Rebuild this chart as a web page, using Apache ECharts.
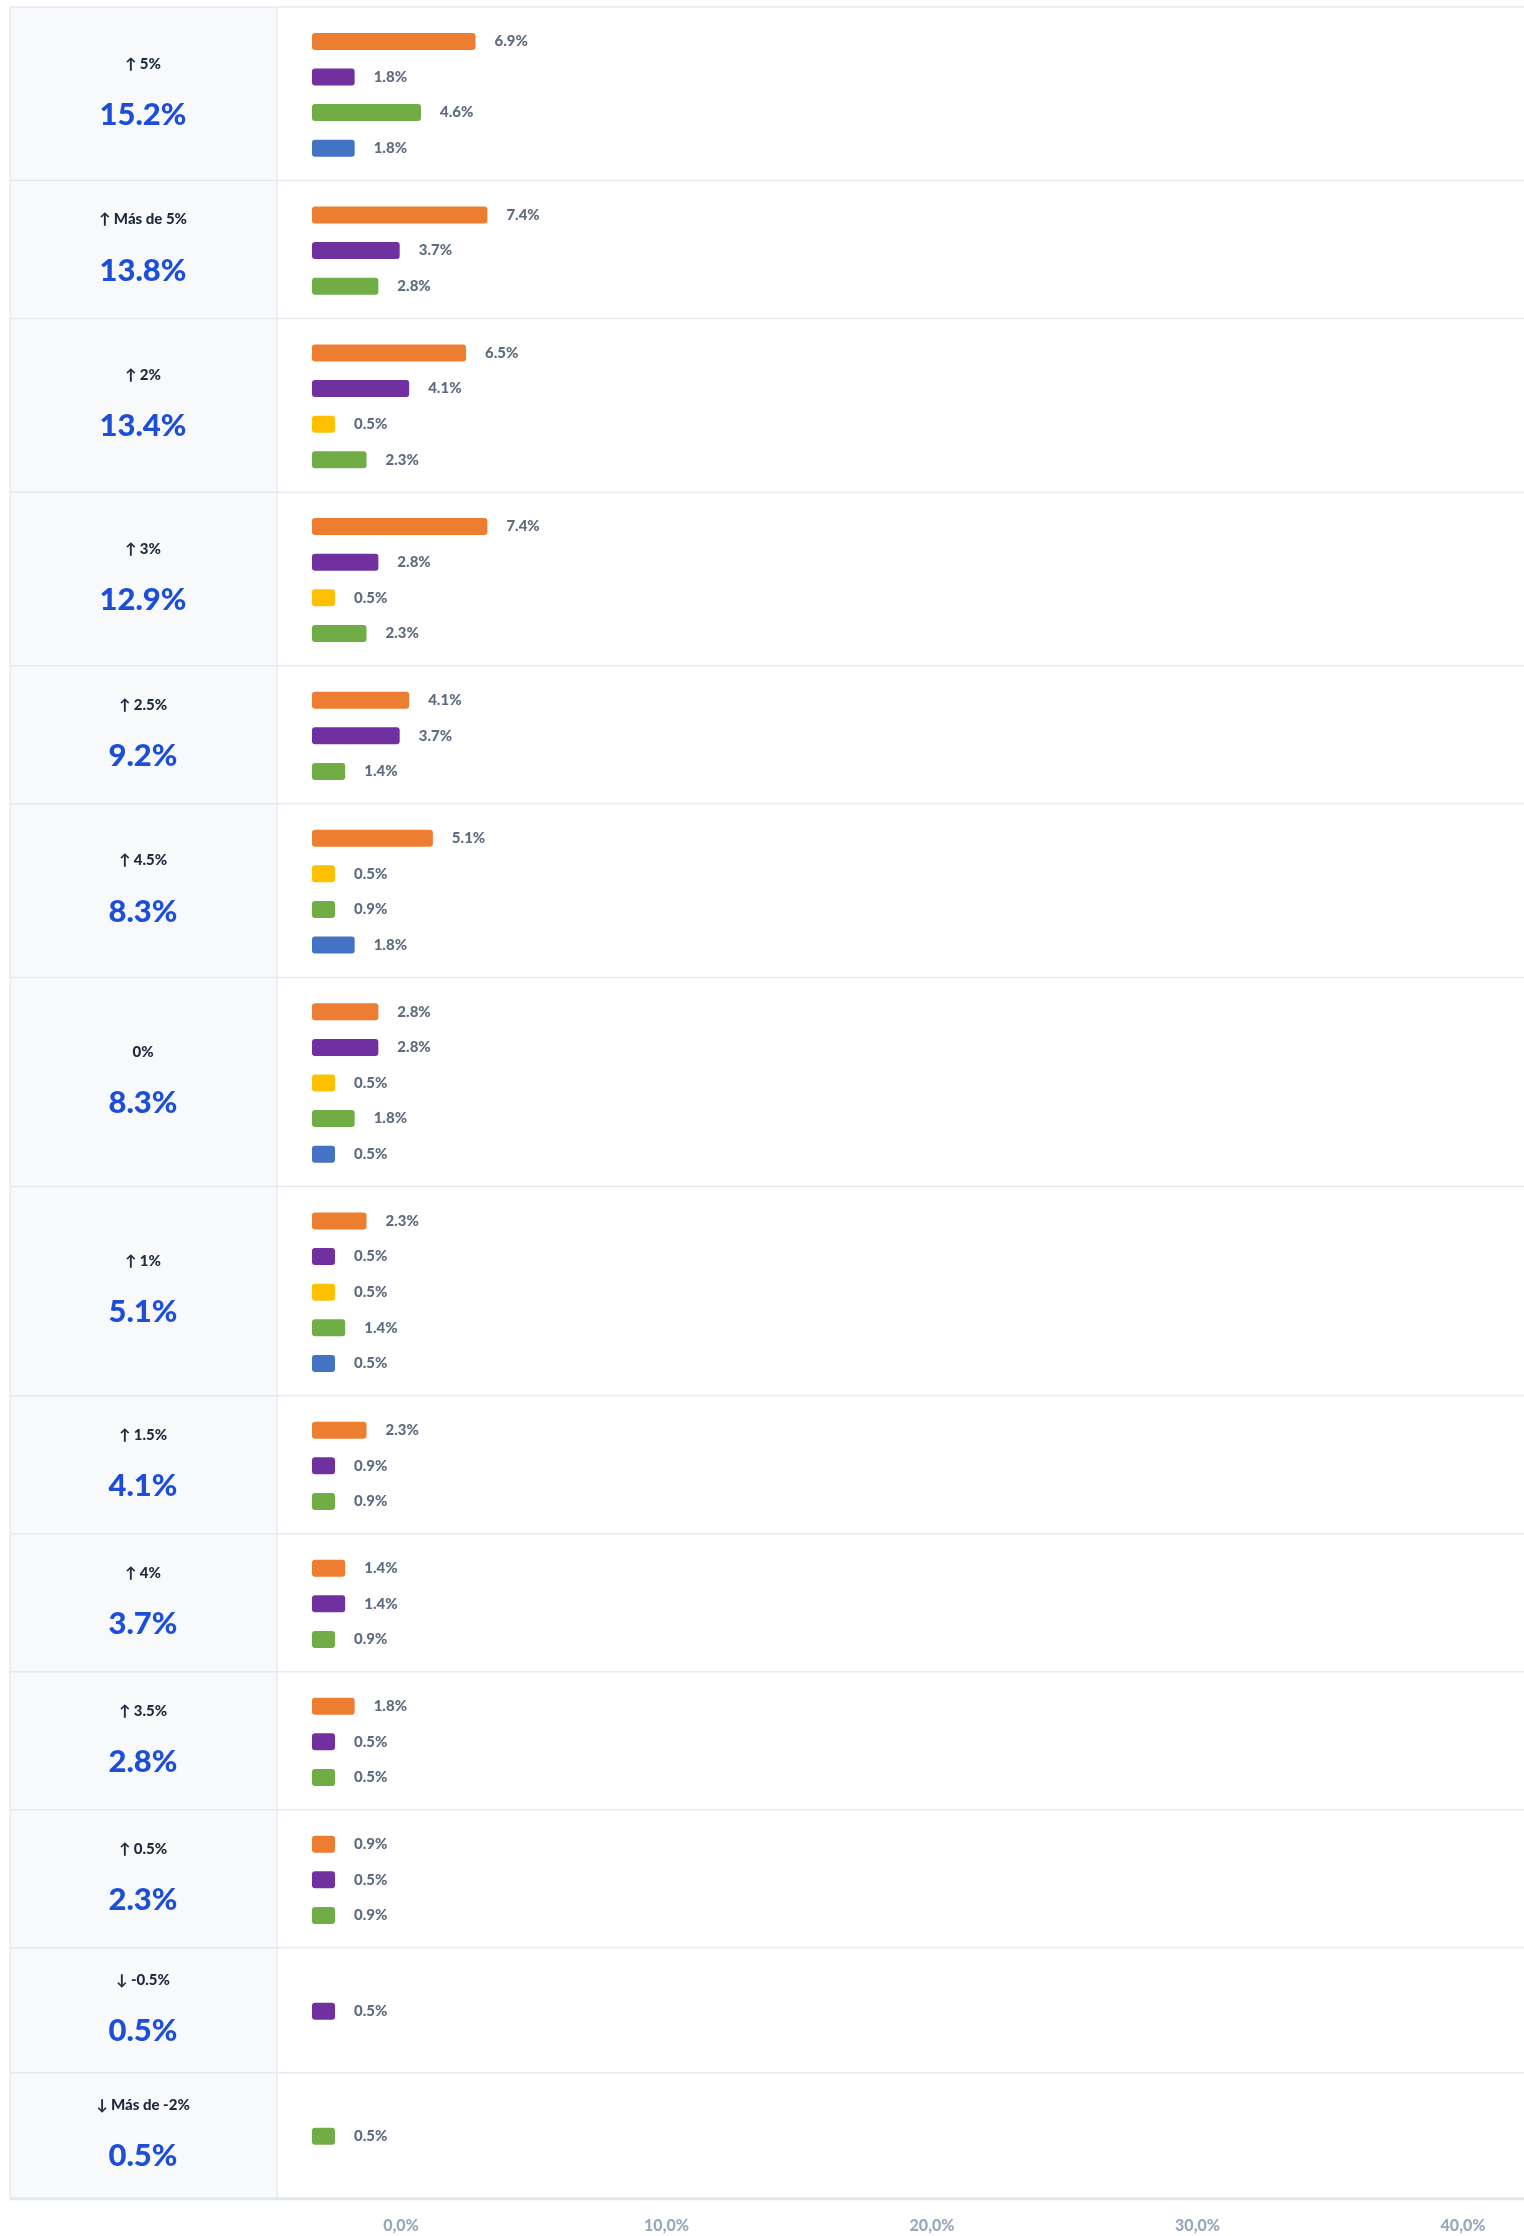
<!DOCTYPE html>
<html>
<head>
<meta charset="utf-8">
<script src="https://cdn.jsdelivr.net/npm/echarts@6/dist/echarts.min.js"></script>
<style>
  html, body { margin: 0; padding: 0; background: #fff; }
  #chart { width: 1524px; height: 2236px; }
</style>
</head>
<body>
<div id="chart"></div>
<script>
// variación de precio -> cuota total
const rowLabels = ['↑ 5%', '↑ Más de 5%', '↑ 2%', '↑ 3%', '↑ 2.5%', '↑ 4.5%', '0%',
  '↑ 1%', '↑ 1.5%', '↑ 4%', '↑ 3.5%', '↑ 0.5%', '↓ -0.5%', '↓ Más de -2%'];
const rowTotals = [15.2, 13.8, 13.4, 12.9, 9.2, 8.3, 8.3, 5.1, 4.1, 3.7, 2.8, 2.3, 0.5, 0.5];

// barras de cada fila y su serie (O naranja, P morado, Y amarillo, G verde, B azul)
const rowValues = [
  [6.9, 1.8, 4.6, 1.8],
  [7.4, 3.7, 2.8],
  [6.5, 4.1, 0.5, 2.3],
  [7.4, 2.8, 0.5, 2.3],
  [4.1, 3.7, 1.4],
  [5.1, 0.5, 0.9, 1.8],
  [2.8, 2.8, 0.5, 1.8, 0.5],
  [2.3, 0.5, 0.5, 1.4, 0.5],
  [2.3, 0.9, 0.9],
  [1.4, 1.4, 0.9],
  [1.8, 0.5, 0.5],
  [0.9, 0.5, 0.9],
  [0.5],
  [0.5]
];
const rowKinds = [
  ['O', 'P', 'G', 'B'],
  ['O', 'P', 'G'],
  ['O', 'P', 'Y', 'G'],
  ['O', 'P', 'Y', 'G'],
  ['O', 'P', 'G'],
  ['O', 'Y', 'G', 'B'],
  ['O', 'P', 'Y', 'G', 'B'],
  ['O', 'P', 'Y', 'G', 'B'],
  ['O', 'P', 'G'],
  ['O', 'P', 'G'],
  ['O', 'P', 'G'],
  ['O', 'P', 'G'],
  ['P'],
  ['G']
];
const axisTicks = [0, 10, 20, 30, 40];

const colors = { O: '#ED7D31', P: '#7030A0', Y: '#FFC000', G: '#70AD47', B: '#4472C4' };

const FONT = 'Lato, "Noto Sans", sans-serif';
const W = 1524;
const TOP = 7, PITCH = 35.6, PAD = 31.2, MIN_ROW = 125;
const TABLE_L = 10, DIVIDER = 277, BAR_L = 312, BAR_W = 948;
const LINE = '#e6eaf0';

// alto de cada fila
const rows = [];
let y = TOP;
rowValues.forEach((vals, i) => {
  const h = Math.max(MIN_ROW, vals.length * PITCH + PAD);
  rows.push({ top: y, h: h, inner: vals.length * PITCH });
  y += h;
});
const tableBottom = y;

const grid = [], xAxis = [], yAxis = [], series = [];
rows.forEach((r, i) => {
  grid.push({
    left: BAR_L, width: BAR_W,
    top: r.top + (r.h - r.inner) / 2 + 1, height: r.inner
  });
  xAxis.push({ type: 'value', gridIndex: i, min: 0, max: 40, show: false });
  yAxis.push({
    type: 'category', gridIndex: i, inverse: true, show: false,
    data: rowValues[i].map((v, j) => j)
  });
  yAxis.push({
    type: 'category', gridIndex: i, position: 'left',
    data: [rowLabels[i]],
    axisLine: { show: false }, axisTick: { show: false }, splitLine: { show: false },
    axisLabel: {
      margin: BAR_L - 143, align: 'center', verticalAlign: 'middle',
      formatter: () => '{a|' + rowLabels[i] + '}\n{b|' + rowTotals[i].toFixed(1) + '%}',
      rich: {
        a: { fontFamily: FONT, fontSize: 15, fontWeight: 900, color: '#1e293b', lineHeight: 40, align: 'center' },
        b: { fontFamily: FONT, fontSize: 31, fontWeight: 900, color: '#1d4ed8', lineHeight: 62, align: 'center' }
      }
    }
  });
  series.push({
    type: 'bar', xAxisIndex: i, yAxisIndex: 2 * i,
    barWidth: 17, barMinHeight: 23,
    itemStyle: { borderRadius: 3 },
    label: {
      show: true, position: 'right', distance: 19,
      fontFamily: FONT, fontSize: 15, fontWeight: 900, color: '#5f6b7e',
      formatter: p => p.value.toFixed(1) + '%'
    },
    data: rowValues[i].map((v, j) => ({ value: v, itemStyle: { color: colors[rowKinds[i][j]] } }))
  });
});

// eje inferior (escala mostrada)
const axisGrid = rows.length;
grid.push({ left: 401, width: 1062, top: tableBottom + 1, height: 1 });
xAxis.push({
  type: 'value', gridIndex: axisGrid, min: axisTicks[0], max: axisTicks[axisTicks.length - 1],
  interval: axisTicks[1] - axisTicks[0],
  axisLine: { show: false }, axisTick: { show: false }, splitLine: { show: false },
  axisLabel: {
    margin: 18, showMinLabel: true, showMaxLabel: true,
    fontFamily: FONT, fontSize: 16, fontWeight: 900, color: '#9aa8bd',
    formatter: v => v.toFixed(1).replace('.', ',') + '%'
  }
});
yAxis.push({ type: 'value', gridIndex: axisGrid, show: false });

// tabla de fondo
const graphic = [];
graphic.push({
  type: 'rect', z: -10, silent: true,
  shape: { x: TABLE_L, y: TOP, width: DIVIDER - TABLE_L, height: tableBottom - TOP },
  style: { fill: '#f8f9fb' }
});
rows.forEach(r => {
  graphic.push({
    type: 'line', z: -5, silent: true,
    shape: { x1: TABLE_L, y1: r.top, x2: W, y2: r.top },
    style: { stroke: LINE, lineWidth: 1.5 }
  });
});
graphic.push({
  type: 'line', z: -5, silent: true,
  shape: { x1: TABLE_L, y1: TOP, x2: TABLE_L, y2: tableBottom },
  style: { stroke: LINE, lineWidth: 1.5 }
});
graphic.push({
  type: 'line', z: -5, silent: true,
  shape: { x1: DIVIDER, y1: TOP, x2: DIVIDER, y2: tableBottom },
  style: { stroke: LINE, lineWidth: 1.5 }
});
graphic.push({
  type: 'line', z: -5, silent: true,
  shape: { x1: TABLE_L, y1: tableBottom + 1, x2: W, y2: tableBottom + 1 },
  style: { stroke: '#e2e8f0', lineWidth: 3 }
});

const chart = echarts.init(document.getElementById('chart'));
chart.setOption({
  animation: false,
  backgroundColor: '#ffffff',
  graphic: graphic,
  grid: grid,
  xAxis: xAxis,
  yAxis: yAxis,
  series: series
});
</script>
</body>
</html>
